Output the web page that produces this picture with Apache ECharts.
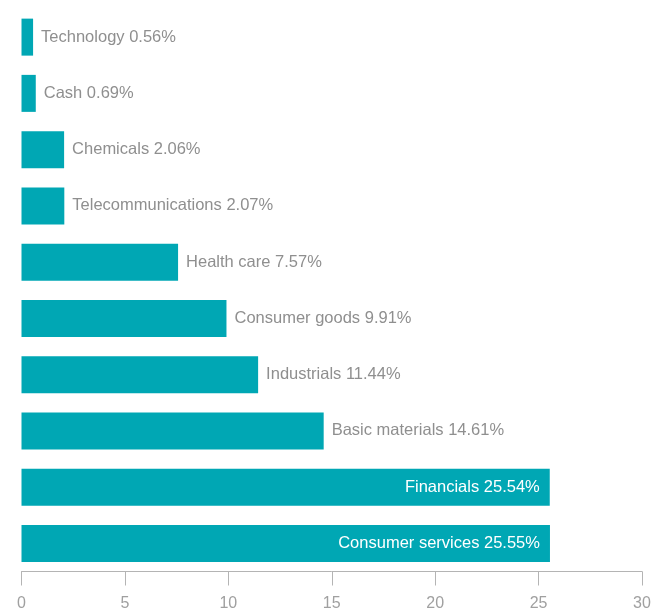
<!DOCTYPE html>
<html>
<head>
<meta charset="utf-8">
<script src="https://cdn.jsdelivr.net/npm/echarts@6/dist/echarts.min.js"></script>
<style>
  html, body { margin: 0; padding: 0; background: #fff; }
  #chart { width: 664px; height: 612px; }
</style>
</head>
<body>
<div id="chart"></div>
<script>
// Sector allocation (%)
const sectors = [
  'Technology', 'Cash', 'Chemicals', 'Telecommunications', 'Health care',
  'Consumer goods', 'Industrials', 'Basic materials', 'Financials', 'Consumer services'
];
const weights = [0.56, 0.69, 2.06, 2.07, 7.57, 9.91, 11.44, 14.61, 25.54, 25.55];
const xTicks = [0, 5, 10, 15, 20, 25, 30];

// Bars long enough to hold their label get it inside, in white
const insideFrom = 20;

const teal = '#00a7b4';
const grey = '#8f8f8f';
const font = '"Liberation Sans", Arial, sans-serif';

const chart = echarts.init(document.getElementById('chart'), null, { renderer: 'canvas' });

chart.setOption({
  animation: false,
  grid: { left: 21.5, right: 22, top: 9, bottom: 40.5, containLabel: false },
  xAxis: {
    type: 'value',
    min: xTicks[0],
    max: xTicks[xTicks.length - 1],
    interval: 5,
    axisLine: { show: true, lineStyle: { color: '#b4b4b4', width: 1 } },
    axisTick: { show: true, length: 14, lineStyle: { color: '#b4b4b4' } },
    splitLine: { show: false },
    axisLabel: { color: '#a0a0a0', fontSize: 16, fontFamily: font, margin: 24 }
  },
  yAxis: {
    type: 'category',
    data: sectors,
    inverse: true,
    axisLine: { show: false },
    axisTick: { show: false },
    axisLabel: { show: false }
  },
  series: [{
    type: 'bar',
    barWidth: 37,
    itemStyle: { color: teal },
    data: weights.map((v, i) => {
      const inside = v >= insideFrom;
      return {
        value: v,
        label: {
          show: true,
          position: inside ? 'insideRight' : 'right',
          distance: inside ? 10 : 8,
          color: inside ? '#ffffff' : grey,
          fontSize: 16.5,
          fontFamily: font,
          formatter: sectors[i] + ' ' + v.toFixed(2) + '%'
        }
      };
    })
  }]
});
</script>
</body>
</html>
